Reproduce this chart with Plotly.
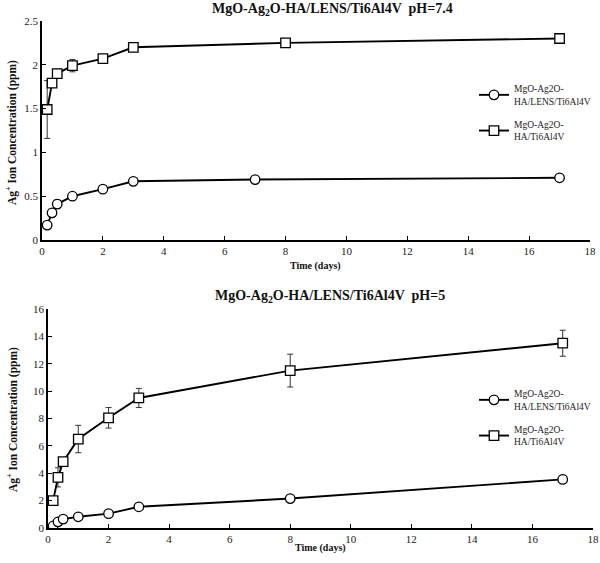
import plotly.graph_objects as go

# ---- data: pH = 7.4 ----
t74_lens = [0.17, 0.33, 0.5, 1, 2, 3, 7, 17]
c74_lens = [0.17, 0.31, 0.41, 0.50, 0.58, 0.67, 0.69, 0.71]
e74_lens = [0.0, 0.03, 0.05, 0.04, 0.02, 0.01, 0.01, 0.01]
t74_ha = [0.17, 0.33, 0.5, 1, 2, 3, 8, 17]
c74_ha = [1.49, 1.79, 1.90, 1.99, 2.07, 2.20, 2.25, 2.30]
e74_ha = [0.33, 0.05, 0.05, 0.07, 0.03, 0.02, 0.02, 0.02]

# ---- data: pH = 5 ----
t5_lens = [0.17, 0.33, 0.5, 1, 2, 3, 8, 17]
c5_lens = [0.15, 0.45, 0.65, 0.82, 1.05, 1.55, 2.15, 3.55]
e5_lens = [0.05, 0.1, 0.1, 0.1, 0.1, 0.1, 0.2, 0.3]
t5_ha = [0.17, 0.33, 0.5, 1, 2, 3, 8, 17]
c5_ha = [2.0, 3.7, 4.85, 6.5, 8.05, 9.5, 11.5, 13.5]
e5_ha = [0.2, 0.7, 0.3, 1.0, 0.75, 0.7, 1.2, 0.95]

name_lens = "MgO-Ag2O-<br>HA/LENS/Ti6Al4V"
name_ha = "MgO-Ag2O-<br>HA/Ti6Al4V"
titles = ["MgO-Ag<sub>2</sub>O-HA/LENS/Ti6Al4V  pH=7.4",
          "MgO-Ag<sub>2</sub>O-HA/LENS/Ti6Al4V  pH=5"]
ylabel = "Ag<sup>+</sup> Ion Concentration (ppm)"
xlabel = "Time (days)"

FONT = "Liberation Serif, Times New Roman, serif"
W, H = 600, 563

fig = go.Figure()

def add(t, c, e, name, symbol, xa, ya, legend, group):
    fig.add_trace(go.Scatter(
        x=t, y=c, name=name, mode="lines+markers",
        xaxis=xa, yaxis=ya, legend=legend, legendgroup=group,
        line=dict(color="black", width=1.9),
        marker=dict(symbol=symbol, size=9.5, color="white",
                    line=dict(color="black", width=1.3)),
        error_y=dict(type="data", array=e, color="#333", thickness=1, width=3),
    ))

add(t74_lens, c74_lens, e74_lens, name_lens, "circle", "x", "y", "legend", "a")
add(t74_ha, c74_ha, e74_ha, name_ha, "square", "x", "y", "legend", "b")
add(t5_lens, c5_lens, e5_lens, name_lens, "circle", "x2", "y2", "legend2", "c")
add(t5_ha, c5_ha, e5_ha, name_ha, "square", "x2", "y2", "legend2", "d")

def py(px):
    return 1 - px / H

axis_common = dict(showline=True, linecolor="black", linewidth=1.5, showgrid=False,
                   zeroline=False, ticks="inside", ticklen=4, tickcolor="black",
                   automargin=False,
                   tickfont=dict(family=FONT, size=11, color="#222"))

leg_common = dict(xanchor="left", yanchor="top",
                  font=dict(family=FONT, size=9.5, color="#222"), bgcolor="rgba(0,0,0,0)",
                  tracegroupgap=8, itemwidth=30)

fig.update_layout(
    width=W, height=H, margin=dict(l=0, r=0, t=0, b=0, autoexpand=False),
    paper_bgcolor="white", plot_bgcolor="white",
    font=dict(family=FONT, color="black"),
    xaxis=dict(domain=[42 / W, 590 / W], range=[0, 18], dtick=2, anchor="y", **axis_common),
    yaxis=dict(domain=[py(240), py(21)], range=[0, 2.5], dtick=0.5, anchor="x", **axis_common),
    xaxis2=dict(domain=[48 / W, 593 / W], range=[0, 18], dtick=2, anchor="y2", **axis_common),
    yaxis2=dict(domain=[py(528), py(309)], range=[0, 16], dtick=2, anchor="x2", **axis_common),
    legend=dict(x=474 / W, y=py(76), **leg_common),
    legend2=dict(x=474 / W, y=py(381), **leg_common),
    showlegend=True,
)

ann = []
for txt, yc, xc in [(titles[0], 9, 332), (titles[1], 296, 330)]:
    ann.append(dict(text="<b>" + txt + "</b>", x=xc / W, y=py(yc), xref="paper", yref="paper",
                    xanchor="center", yanchor="middle",
                    showarrow=False, font=dict(family=FONT, size=14, color="#111")))
for yc, xc in [(266, 316), (548, 320)]:
    ann.append(dict(text="<b>" + xlabel + "</b>", x=xc / W, y=py(yc), xref="paper", yref="paper",
                    xanchor="center", yanchor="middle",
                    showarrow=False, font=dict(family=FONT, size=10, color="#111")))
for yc in [133, 420]:
    ann.append(dict(text="<b>" + ylabel + "</b>", x=12 / W, y=py(yc), xref="paper", yref="paper",
                    xanchor="center", yanchor="middle",
                    showarrow=False, textangle=-90, font=dict(family=FONT, size=11.5, color="#111")))
fig.update_layout(annotations=ann)

fig.write_html("out.html", config={"displayModeBar": False},
               post_script="document.body.style.margin='0';document.body.style.overflow='hidden';")
